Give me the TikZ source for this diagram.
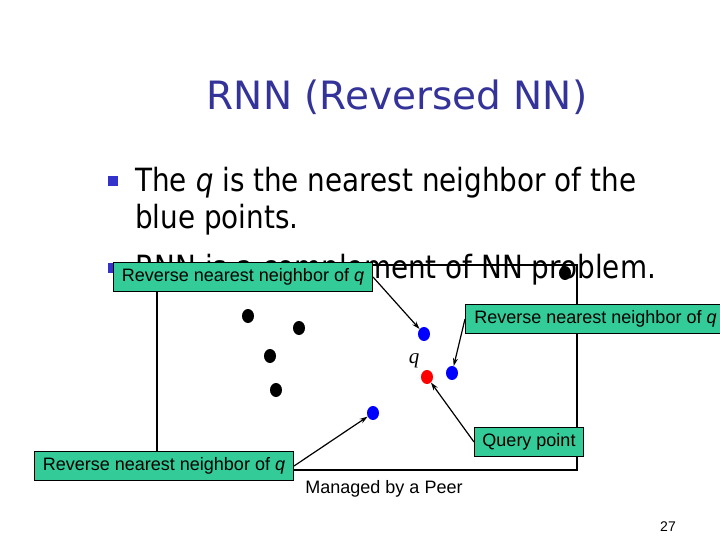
\documentclass[tikz,border=0pt]{standalone}
\usepackage{fontspec}
\setmainfont{Liberation Sans}
\newfontfamily\titlefont{DejaVu Sans}
\newfontfamily\bodyfont[FakeStretch=0.87]{DejaVu Sans}
\newfontfamily\qfont{Liberation Serif}
\usetikzlibrary{shapes.geometric,arrows.meta}
\definecolor{titleblue}{RGB}{51,51,153}
\definecolor{bulletblue}{RGB}{51,51,204}
\definecolor{labelgreen}{RGB}{51,204,153}
\definecolor{dotblue}{RGB}{0,0,255}
\definecolor{dotred}{RGB}{255,0,0}
\begin{document}
\begin{tikzpicture}[x=1bp,y=-1bp,
  lbl/.style={draw=black, line width=1bp, fill=labelgreen, font=\fontsize{18bp}{20bp}\selectfont,
    inner sep=0pt, minimum height=29bp, text height=13bp, text depth=4bp, anchor=north west},
  dot/.style={ellipse, minimum width=12bp, minimum height=14bp, inner sep=0pt, fill=#1},
  bulletbox/.style={fill=bulletblue, minimum size=10bp, inner sep=0pt},
  body/.style={anchor=base west, inner sep=0pt, font=\bodyfont\fontsize{32bp}{36bp}\selectfont},
  conn/.style={line width=1.2bp, -{Stealth[length=8bp,width=5bp]}},
]
\clip (0,0) rectangle (720,540);
\useasboundingbox (0,0) rectangle (720,540);

% title
\node[font=\titlefont\fontsize{39bp}{44bp}\selectfont, text=titleblue, anchor=base, inner sep=0pt] (title) at (397,110) {RNN (Reversed NN)};

% bullet text
\node[bulletbox] (bu1) at (112.5,181) {};
\node[body] (l1) at (135,192) {The \textit{q} is the nearest neighbor of the};
\node[body] (l2) at (135,229) {blue points.};
\node[bulletbox] (bu2) at (112.5,268) {};
\node[body] (l3) at (135,279) {RNN is a complement of NN problem.};

% peer region
\node[draw, line width=1.8bp, minimum width=420bp, minimum height=205bp, inner sep=0pt, anchor=north west] (peer) at (156,264) {};

% points
\node[dot=black] (k1) at (248,316) {};
\node[dot=black] (k2) at (299,328) {};
\node[dot=black] (k3) at (270,356) {};
\node[dot=black] (k4) at (276,390) {};
\node[dot=black] (k5) at (565,273) {};
\node[dot=dotblue] (p1) at (424,334) {};
\node[dot=dotblue] (p2) at (452,373) {};
\node[dot=dotblue] (p3) at (373,413) {};
\node[dot=dotred] (q) at (427,377) {};
\node[font=\qfont\itshape\fontsize{21bp}{21bp}\selectfont, inner sep=0pt] (qlbl) at (414,361) {q};

% labels
\node[lbl, minimum width=259bp] (lA) at (113,262) {Reverse nearest neighbor of \textit{q}};
\node[lbl, minimum width=260bp] (lB) at (465,304) {Reverse nearest neighbor of \textit{q}};
\node[lbl, minimum width=109bp] (lC) at (474,427) {Query point};
\node[lbl, minimum width=259bp] (lD) at (34,451) {Reverse nearest neighbor of \textit{q}};

% connectors
\draw[conn] (lA.east) -- (p1);
\draw[conn] (lB.west) -- (p2);
\draw[conn] (lC.west) -- (q);
\draw[conn] (lD.east) -- (p3);

% captions
\node[font=\fontsize{18bp}{20bp}\selectfont] (mg) at (384,489) {Managed by a Peer};
\node[font=\fontsize{14bp}{16bp}\selectfont] (pg) at (668,527) {27};
\end{tikzpicture}
\end{document}
